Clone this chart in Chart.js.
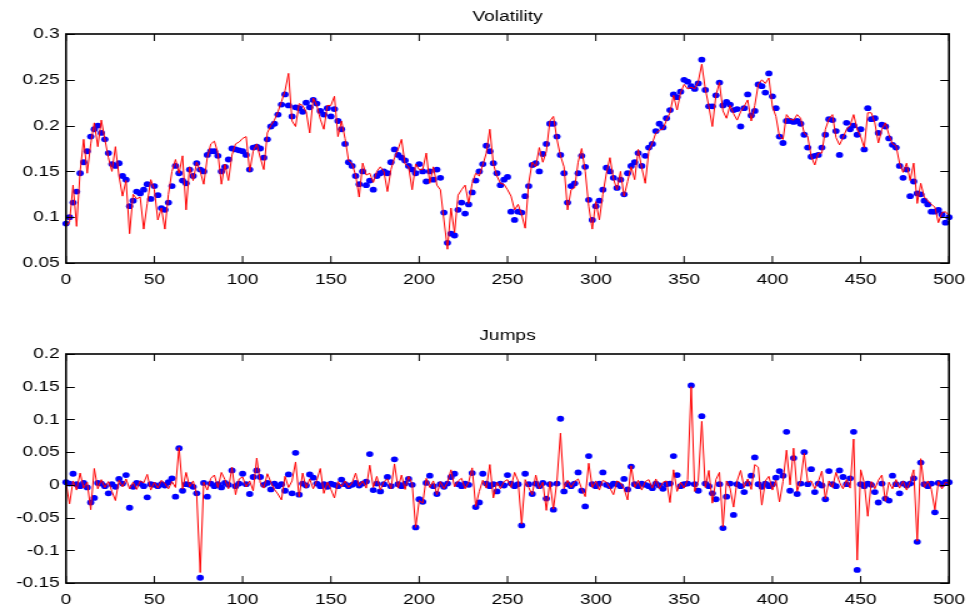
<!DOCTYPE html>
<html>
<head>
<meta charset="utf-8">
<script src="https://cdn.jsdelivr.net/npm/chart.js@4.4.0/dist/chart.umd.min.js"></script>
<style>
  body { margin: 0; background: #fff; overflow: hidden; }
  /* the reference figure is stretched sideways, so draw narrow and widen */
  .panel { position: absolute; left: 0; transform: scaleX(1.25); transform-origin: 0 0; }
</style>
</head>
<body>
<div class="panel" style="top:0"><canvas id="volChart" width="776" height="300"></canvas></div>
<div class="panel" style="top:300px"><canvas id="jumpChart" width="776" height="309"></canvas></div>
<script>
// one value every STEP time units, 0..500
const STEP = 2;

// volatility: true path (red line) and estimate (blue dots)
const volTrue = [
  0.090, 0.095, 0.135, 0.090, 0.150, 0.185, 0.148, 0.180, 0.203, 0.177,
  0.206, 0.185, 0.165, 0.150, 0.177, 0.145, 0.123, 0.140, 0.082, 0.125,
  0.120, 0.122, 0.087, 0.115, 0.141, 0.130, 0.097, 0.110, 0.087, 0.125,
  0.150, 0.163, 0.148, 0.167, 0.108, 0.155, 0.140, 0.160, 0.150, 0.136,
  0.165, 0.180, 0.183, 0.170, 0.136, 0.158, 0.140, 0.168, 0.180, 0.182,
  0.186, 0.188, 0.150, 0.172, 0.180, 0.165, 0.152, 0.192, 0.200, 0.206,
  0.215, 0.226, 0.238, 0.257, 0.205, 0.199, 0.224, 0.222, 0.215, 0.192,
  0.230, 0.222, 0.207, 0.196, 0.222, 0.222, 0.232, 0.188, 0.205, 0.186,
  0.162, 0.158, 0.146, 0.122, 0.159, 0.146, 0.148, 0.138, 0.150, 0.155,
  0.150, 0.128, 0.152, 0.165, 0.174, 0.185, 0.158, 0.155, 0.130, 0.158,
  0.152, 0.152, 0.170, 0.137, 0.155, 0.135, 0.130, 0.097, 0.065, 0.110,
  0.083, 0.124, 0.130, 0.135, 0.115, 0.137, 0.148, 0.145, 0.157, 0.170,
  0.196, 0.158, 0.145, 0.137, 0.136, 0.130, 0.123, 0.108, 0.114, 0.103,
  0.088, 0.137, 0.160, 0.155, 0.176, 0.160, 0.172, 0.205, 0.210, 0.185,
  0.167, 0.155, 0.108, 0.130, 0.132, 0.160, 0.175, 0.150, 0.112, 0.087,
  0.117, 0.097, 0.125, 0.148, 0.165, 0.142, 0.130, 0.150, 0.123, 0.139,
  0.155, 0.141, 0.174, 0.154, 0.137, 0.172, 0.181, 0.192, 0.195, 0.196,
  0.206, 0.214, 0.233, 0.217, 0.236, 0.245, 0.240, 0.242, 0.240, 0.248,
  0.267, 0.240, 0.221, 0.199, 0.233, 0.247, 0.216, 0.208, 0.222, 0.213,
  0.206, 0.215, 0.221, 0.228, 0.205, 0.222, 0.245, 0.250, 0.246, 0.252,
  0.221, 0.210, 0.188, 0.185, 0.212, 0.207, 0.206, 0.212, 0.208, 0.192,
  0.188, 0.166, 0.157, 0.170, 0.170, 0.196, 0.207, 0.212, 0.187, 0.179,
  0.187, 0.196, 0.200, 0.212, 0.196, 0.188, 0.176, 0.214, 0.214, 0.203,
  0.181, 0.196, 0.203, 0.190, 0.180, 0.178, 0.159, 0.149, 0.159, 0.140,
  0.159, 0.115, 0.137, 0.122, 0.118, 0.114, 0.111, 0.094, 0.105, 0.106,
  0.102
];
const volEst = [
  0.093, 0.100, 0.116, 0.128, 0.148, 0.160, 0.172, 0.188, 0.196, 0.200,
  0.192, 0.185, 0.170, 0.158, 0.156, 0.159, 0.145, 0.141, 0.112, 0.118,
  0.128, 0.126, 0.130, 0.136, 0.120, 0.134, 0.124, 0.110, 0.108, 0.116,
  0.134, 0.156, 0.148, 0.140, 0.137, 0.152, 0.145, 0.159, 0.152, 0.150,
  0.168, 0.172, 0.172, 0.167, 0.150, 0.155, 0.163, 0.175, 0.174, 0.173,
  0.172, 0.168, 0.152, 0.176, 0.177, 0.175, 0.165, 0.185, 0.199, 0.202,
  0.212, 0.223, 0.234, 0.222, 0.210, 0.220, 0.219, 0.215, 0.225, 0.220,
  0.228, 0.224, 0.216, 0.212, 0.219, 0.210, 0.218, 0.205, 0.196, 0.180,
  0.160, 0.156, 0.145, 0.136, 0.150, 0.135, 0.140, 0.130, 0.145, 0.148,
  0.150, 0.148, 0.160, 0.174, 0.168, 0.165, 0.162, 0.156, 0.152, 0.148,
  0.158, 0.150, 0.139, 0.150, 0.141, 0.152, 0.143, 0.105, 0.072, 0.082,
  0.080, 0.108, 0.116, 0.104, 0.114, 0.127, 0.140, 0.150, 0.158, 0.178,
  0.172, 0.159, 0.148, 0.135, 0.141, 0.144, 0.106, 0.097, 0.106, 0.105,
  0.123, 0.134, 0.157, 0.159, 0.150, 0.169, 0.180, 0.202, 0.202, 0.188,
  0.168, 0.148, 0.116, 0.134, 0.137, 0.148, 0.167, 0.155, 0.119, 0.097,
  0.112, 0.118, 0.130, 0.154, 0.150, 0.143, 0.132, 0.141, 0.125, 0.148,
  0.156, 0.160, 0.170, 0.156, 0.167, 0.176, 0.180, 0.194, 0.202, 0.198,
  0.208, 0.217, 0.234, 0.231, 0.237, 0.250, 0.248, 0.243, 0.240, 0.246,
  0.272, 0.239, 0.221, 0.221, 0.233, 0.247, 0.222, 0.226, 0.223, 0.217,
  0.218, 0.199, 0.219, 0.234, 0.211, 0.216, 0.245, 0.243, 0.236, 0.257,
  0.232, 0.219, 0.188, 0.181, 0.205, 0.205, 0.204, 0.205, 0.202, 0.190,
  0.176, 0.166, 0.167, 0.168, 0.176, 0.190, 0.207, 0.206, 0.194, 0.168,
  0.188, 0.203, 0.196, 0.200, 0.190, 0.196, 0.174, 0.219, 0.207, 0.208,
  0.192, 0.201, 0.199, 0.186, 0.179, 0.176, 0.156, 0.143, 0.152, 0.123,
  0.139, 0.126, 0.125, 0.118, 0.114, 0.106, 0.106, 0.108, 0.103, 0.094,
  0.100
];

// jumps: true path (red line) and estimate (blue dots)
const jumpTrue = [
  0.003, -0.029, 0.006, -0.008, 0.018, -0.005, 0.004, -0.038, 0.025, -0.006,
  0.008, -0.004, 0.005, -0.010, -0.024, 0.007, -0.003, 0.009, -0.006, 0.004,
  -0.007, 0.006, 0.003, 0.016, -0.008, 0.004, -0.005, 0.007, 0.002, -0.006,
  0.005, -0.004, 0.057, -0.006, 0.019, -0.003, 0.006, -0.015, -0.134, 0.004,
  -0.008, 0.010, 0.015, -0.004, 0.019, 0.008, -0.006, 0.027, -0.015, 0.009,
  0.012, -0.003, 0.006, -0.009, 0.041, 0.003, -0.005, 0.017, 0.004, -0.007,
  -0.014, -0.023, 0.013, -0.004, 0.006, 0.035, -0.018, 0.018, -0.005, 0.009,
  -0.006, 0.007, 0.025, -0.013, 0.004, -0.007, -0.020, 0.005, -0.003, 0.006,
  -0.004, 0.003, 0.018, -0.002, 0.006, -0.005, 0.030, -0.004, 0.013, -0.008,
  0.005, 0.009, -0.006, 0.032, -0.005, 0.015, -0.007, 0.013, 0.002, -0.065,
  -0.024, -0.028, 0.010, -0.004, 0.006, -0.015, 0.005, -0.006, 0.004, 0.023,
  -0.003, 0.006, 0.010, -0.006, 0.004, 0.026, -0.033, -0.010, 0.007, -0.005,
  0.031, -0.020, 0.004, -0.006, 0.005, 0.008, -0.004, 0.019, 0.006, -0.060,
  0.008, -0.004, -0.015, 0.015, -0.006, 0.004, -0.039, 0.005, -0.037, 0.006,
  0.079, -0.006, 0.007, -0.004, 0.005, 0.009, -0.006, -0.018, 0.033, -0.004,
  0.006, -0.008, 0.007, 0.004, -0.005, -0.015, 0.006, 0.003, -0.006, -0.023,
  0.029, -0.004, 0.007, -0.008, 0.005, 0.008, -0.005, 0.009, -0.006, 0.004,
  0.006, -0.027, 0.023, -0.010, 0.004, -0.005, 0.008, 0.150, -0.010, 0.006,
  0.097, -0.004, 0.022, -0.028, 0.008, 0.019, -0.064, 0.006, -0.005, -0.034,
  0.006, 0.022, -0.004, 0.009, -0.007, 0.031, 0.027, -0.031, 0.006, 0.013,
  -0.008, 0.007, -0.026, 0.005, 0.053, 0.000, 0.056, -0.010, 0.007, 0.048,
  0.004, 0.006, -0.006, 0.005, 0.021, -0.021, 0.006, -0.004, 0.019, 0.004,
  -0.006, 0.008, -0.005, 0.070, -0.115, 0.023, 0.003, -0.048, 0.005, -0.006,
  0.007, 0.015, -0.025, 0.004, -0.006, 0.008, -0.005, 0.006, -0.008, 0.005,
  0.023, -0.086, 0.040, -0.004, 0.006, -0.007, -0.038, 0.005, -0.006, 0.004,
  0.002
];
const jumpEst = [
  0.004, 0.002, 0.017, 0.001, -0.002, 0.003, -0.004, -0.027, -0.020, 0.003,
  0.002, -0.002, -0.013, 0.001, -0.003, 0.009, 0.002, 0.015, -0.035, -0.003,
  0.003, 0.002, -0.002, -0.019, 0.001, 0.000, -0.002, 0.001, -0.001, 0.004,
  0.010, -0.018, 0.056, -0.009, 0.001, 0.000, -0.003, -0.013, -0.142, 0.003,
  -0.018, 0.002, -0.002, 0.001, -0.004, 0.003, 0.000, 0.022, -0.002, 0.002,
  0.017, 0.001, -0.014, 0.012, 0.022, 0.012, 0.000, 0.003, -0.007, 0.002,
  -0.002, 0.001, -0.009, 0.016, -0.013, 0.049, -0.015, 0.002, -0.001, 0.016,
  0.011, 0.002, -0.002, 0.001, -0.003, 0.002, 0.000, -0.002, 0.008, 0.001,
  -0.002, 0.000, 0.003, -0.001, 0.002, 0.005, 0.047, -0.008, 0.002, -0.010,
  0.001, 0.012, -0.002, 0.039, 0.001, -0.002, 0.002, 0.009, 0.000, -0.065,
  -0.022, -0.026, 0.003, 0.014, -0.002, -0.014, 0.001, -0.003, 0.002, 0.012,
  0.017, 0.001, -0.002, 0.002, 0.000, 0.018, -0.034, -0.027, 0.017, 0.002,
  -0.002, 0.001, -0.010, 0.002, -0.001, 0.015, 0.002, -0.002, 0.001, -0.062,
  0.017, 0.001, -0.014, 0.002, -0.002, 0.003, -0.021, 0.001, -0.038, 0.002,
  0.101, -0.010, 0.001, -0.002, 0.002, 0.019, -0.009, -0.033, 0.044, 0.001,
  -0.002, 0.002, 0.019, 0.000, -0.002, 0.002, 0.001, -0.002, 0.009, -0.007,
  0.028, 0.001, -0.002, 0.002, 0.000, -0.002, -0.005, 0.002, -0.001, -0.006,
  0.001, 0.002, 0.044, 0.015, -0.002, 0.001, 0.002, 0.152, 0.001, -0.009,
  0.105, 0.002, -0.002, -0.013, -0.022, 0.001, -0.066, -0.018, 0.002, -0.046,
  0.001, -0.002, -0.011, 0.002, 0.014, 0.042, 0.001, -0.003, 0.002, -0.002,
  0.001, 0.011, 0.021, 0.014, 0.081, -0.009, 0.041, -0.014, 0.002, 0.050,
  0.001, 0.024, -0.011, 0.002, -0.001, -0.022, 0.021, 0.001, -0.002, 0.022,
  0.012, 0.001, 0.010, 0.081, -0.130, 0.001, -0.002, 0.002, 0.000, -0.011,
  -0.027, 0.002, -0.021, -0.024, 0.014, 0.001, -0.013, 0.002, -0.001, 0.002,
  0.010, -0.087, 0.034, 0.001, -0.002, 0.002, -0.042, 0.003, 0.001, 0.004,
  0.004
];

// axis ticks
const xTicks = [0, 50, 100, 150, 200, 250, 300, 350, 400, 450, 500];
const volTicks = [0.05, 0.1, 0.15, 0.2, 0.25, 0.3];
const jumpTicks = [-0.15, -0.1, -0.05, 0, 0.05, 0.1, 0.15, 0.2];

const FONT = "'Liberation Sans', Arial, sans-serif";
const FONT_SIZE = 15.3;
Chart.defaults.font.family = FONT;
Chart.defaults.font.size = FONT_SIZE;
Chart.defaults.color = '#000';

const toXY = arr => arr.map((v, i) => ({ x: i * STEP, y: v }));

// matlab style box with inward tick marks
const boxPlugin = {
  id: 'box',
  afterDatasetsDraw(chart) {
    const { ctx, chartArea: a, scales: { x, y } } = chart;
    const len = 7;
    ctx.save();
    ctx.strokeStyle = '#000';
    ctx.lineWidth = 1;
    ctx.beginPath();
    x.ticks.forEach(t => {
      const px = x.getPixelForValue(t.value);
      ctx.moveTo(px, a.bottom); ctx.lineTo(px, a.bottom - len);
      ctx.moveTo(px, a.top); ctx.lineTo(px, a.top + len);
    });
    y.ticks.forEach(t => {
      const py = Math.round(y.getPixelForValue(t.value)) + 0.5;
      ctx.moveTo(a.left, py); ctx.lineTo(a.left + len, py);
      ctx.moveTo(a.right, py); ctx.lineTo(a.right - len, py);
    });
    ctx.stroke();
    ctx.lineWidth = 1.6;
    ctx.strokeRect(a.left, a.top, a.right - a.left, a.bottom - a.top);
    ctx.restore();
  }
};

// title centred over the plot box, not over the whole canvas
const panelTitle = {
  id: 'panelTitle',
  afterDraw(chart, args, opts) {
    const { ctx, chartArea: a } = chart;
    ctx.save();
    ctx.font = `normal ${FONT_SIZE}px ${FONT}`;
    ctx.fillStyle = '#000';
    ctx.textAlign = 'center';
    ctx.textBaseline = 'middle';
    ctx.fillText(opts.text, (a.left + a.right) / 2, opts.y);
    ctx.restore();
  }
};

function makeChart(id, title, trueVals, estVals, yTicks, opts) {
  return new Chart(document.getElementById(id), {
    type: 'line',
    data: {
      datasets: [
        {
          data: toXY(trueVals),
          borderColor: '#ff0000',
          borderWidth: 1,
          pointRadius: 0,
          tension: 0
        },
        {
          data: toXY(estVals),
          showLine: false,
          pointRadius: 2.9,
          pointBorderWidth: 0,
          pointBackgroundColor: '#0000ff',
          clip: false
        }
      ]
    },
    options: {
      responsive: false,
      animation: false,
      devicePixelRatio: 1,
      layout: { padding: { left: 0, right: 16.8, top: opts.top, bottom: 0 } },
      plugins: {
        legend: { display: false },
        tooltip: { enabled: false },
        title: { display: false },
        panelTitle: { text: title, y: opts.titleY }
      },
      scales: {
        x: {
          type: 'linear',
          min: 0,
          max: 500,
          grid: { display: false, drawTicks: false },
          border: { display: false },
          afterBuildTicks: s => { s.ticks = xTicks.map(v => ({ value: v })); },
          afterFit: s => { s.height = opts.xHeight; s.paddingLeft = 0; s.paddingRight = 0; },
          ticks: { padding: 8, maxRotation: 0, autoSkip: false, callback: v => String(v) }
        },
        y: {
          min: yTicks[0],
          max: yTicks[yTicks.length - 1],
          grid: { display: false, drawTicks: false },
          border: { display: false },
          afterBuildTicks: s => { s.ticks = yTicks.map(v => ({ value: v })); },
          afterFit: s => { s.width = 52.8; },
          ticks: { padding: 5, autoSkip: false, callback: v => String(v) }
        }
      }
    },
    plugins: [boxPlugin, panelTitle]
  });
}

makeChart('volChart', 'Volatility', volTrue, volEst, volTicks,
  { top: 34, titleY: 17, xHeight: 37 });
makeChart('jumpChart', 'Jumps', jumpTrue, jumpEst, jumpTicks,
  { top: 54, titleY: 36, xHeight: 26 });
</script>
</body>
</html>
